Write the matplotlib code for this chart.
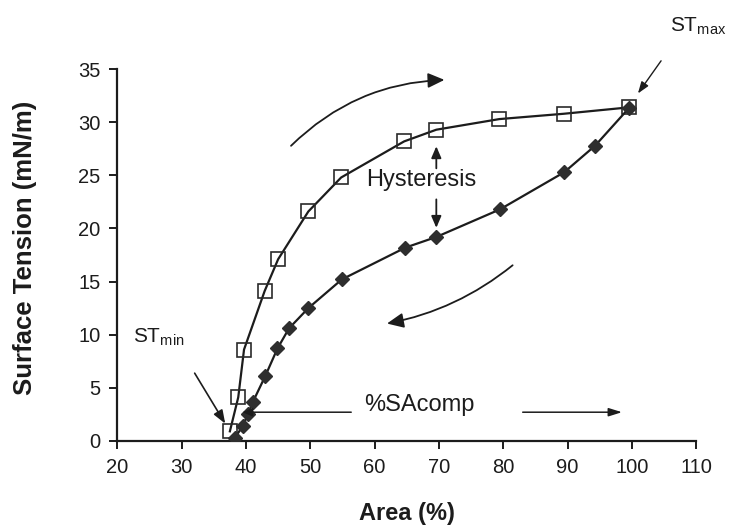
import numpy as np
import matplotlib
matplotlib.use('Agg')
import matplotlib.pyplot as plt
from matplotlib.patches import FancyArrowPatch

plt.rcParams['font.family'] = ['Liberation Sans', 'DejaVu Sans']
plt.rcParams['mathtext.fontset'] = 'custom'
plt.rcParams['mathtext.rm'] = 'Liberation Sans'

# expansion loop (open squares)
area_exp = [37.5, 38.8, 39.7, 42.9, 45.0, 49.7, 54.8, 64.6, 69.6, 79.4, 89.4, 99.5]
st_exp = [0.9, 4.1, 8.6, 14.1, 17.1, 21.6, 24.8, 28.2, 29.3, 30.3, 30.8, 31.4]

# compression loop (filled diamonds)
area_comp = [99.5, 94.3, 89.5, 79.5, 69.6, 64.8, 54.9, 49.7, 46.7, 44.9, 43.0, 41.1, 40.3, 39.5, 38.3]
st_comp = [31.3, 27.8, 25.3, 21.8, 19.2, 18.2, 15.2, 12.5, 10.6, 8.7, 6.1, 3.7, 2.5, 1.4, 0.3]

x_ticks = [20, 30, 40, 50, 60, 70, 80, 90, 100, 110]
y_ticks = [0, 5, 10, 15, 20, 25, 30, 35]

ink = '#1c1c1c'

fig = plt.figure(figsize=(7.32, 5.28), dpi=100)
ax = fig.add_axes([0.1603, 0.165, 0.7907, 0.704])

ax.plot(area_exp, st_exp, color=ink, lw=1.6, marker='s', ms=10.5,
        mfc='none', mec='#2a2a2a', mew=1.2, zorder=3)
ax.plot(area_comp, st_comp, color=ink, lw=1.6, marker='D', ms=7,
        mfc='#2e2e2e', mec='#2e2e2e', zorder=4)

ax.set_xlim(20, 110)
ax.set_ylim(0, 35)
ax.set_xticks(x_ticks)
ax.set_yticks(y_ticks)
ax.spines['top'].set_visible(False)
ax.spines['right'].set_visible(False)
for s in ('left', 'bottom'):
    ax.spines[s].set_linewidth(1.6)
    ax.spines[s].set_color(ink)
ax.tick_params(axis='both', direction='out', length=6, width=1.4,
               colors=ink, labelsize=14.5, pad=6)

ax.set_xlabel('Area (%)', fontsize=17, fontweight='bold', color=ink, labelpad=18)
ax.set_ylabel('Surface Tension (mN/m)', fontsize=18.5, fontweight='bold', color=ink)
ax.yaxis.set_label_coords(-0.138, 0.52)


def arrow(p0, p1, rad=0.0, lw=1.3, hl=8, hw=6):
    # hl / hw: head length and full head width in points
    a = FancyArrowPatch(p0, p1, connectionstyle=f'arc3,rad={rad}',
                        arrowstyle=f'-|>,head_length={hl/10:.2f},head_width={hw/20:.2f}',
                        mutation_scale=10, lw=lw, color=ink, clip_on=False, zorder=5)
    ax.add_patch(a)


# direction of the loop
arrow((46.7, 27.6), (71.3, 34.0), rad=-0.2, hl=10, hw=9)
arrow((81.8, 16.7), (61.5, 11.0), rad=-0.13, hl=10, hw=9)

# hysteresis gap at 70 %
ax.text(67.2, 24.6, 'Hysteresis', fontsize=17, color=ink, ha='center', va='center')
arrow((69.6, 25.4), (69.6, 28.0), hl=7, hw=6)
arrow((69.6, 23.0), (69.6, 19.8), hl=7, hw=6)

# max / min surface tension
ax.text(106.0, 39.0, r'ST$_\mathrm{max}$', fontsize=15, color=ink, ha='left',
        va='center', clip_on=False)
arrow((104.8, 36.0), (100.7, 32.5), lw=1.0, hl=7, hw=5)
ax.text(22.4, 9.8, r'ST$_\mathrm{min}$', fontsize=15, color=ink, ha='left', va='center')
arrow((31.8, 6.6), (37.0, 1.4), lw=1.2, hl=8, hw=6)

# compressibility span
ax.text(58.4, 2.8, '%SAcomp', fontsize=17, color=ink, ha='left', va='baseline')
arrow((56.8, 2.7), (39.0, 2.7), lw=1.1, hl=6, hw=5)
arrow((82.6, 2.7), (98.9, 2.7), lw=1.1, hl=8, hw=5)

fig.savefig('out.png', dpi=100)
